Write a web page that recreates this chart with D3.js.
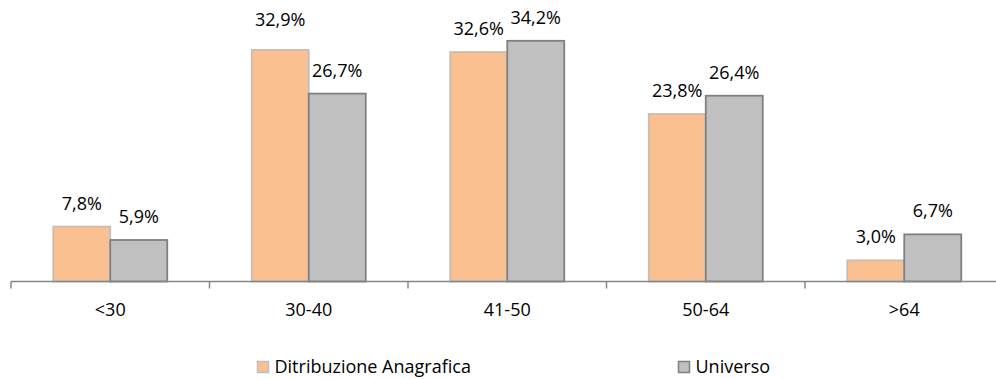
<!DOCTYPE html>
<html>
<head>
<meta charset="utf-8">
<script src="https://cdn.jsdelivr.net/npm/d3@7"></script>
<style>
  html, body { margin: 0; padding: 0; background: #fff; }
  svg { display: block; font-family: "Open Sans", Lato, sans-serif; }
</style>
</head>
<body>
<svg id="chart" width="996" height="379"></svg>
<script>
// Age bands and share of each group (%)
const categories = ["<30", "30-40", "41-50", "50-64", ">64"];
const anagrafica = [7.8, 32.9, 32.6, 23.8, 3.0];
const universo = [5.9, 26.7, 34.2, 26.4, 6.7];
const seriesNames = ["Ditribuzione Anagrafica", "Universo"];

const fmt = v => v.toFixed(1).replace(".", ",") + "%";

const svg = d3.select("#chart");
const baseY = 281.5;
const fontSize = 18;
const labelGap = 17;

const x = d3.scaleBand().domain(categories).range([11, 1003.5]).padding(0);
const y = d3.scaleLinear().domain([0, 40]).range([baseY, 0]);
const barW = 57;

const series = [
  { name: seriesNames[0], values: anagrafica, fill: "#FAC090", stroke: "#BFBFBF", offset: -barW,
    lift: { "30-40": 7 } },
  { name: seriesNames[1], values: universo, fill: "#C0C0C0", stroke: "#808080", offset: 0,
    lift: {} }
];

series.forEach(s => {
  const g = svg.append("g");
  g.selectAll("rect").data(categories).join("rect")
    .attr("x", (c) => x(c) + x.bandwidth() / 2 + s.offset)
    .attr("y", (c, i) => y(s.values[i]))
    .attr("width", barW)
    .attr("height", (c, i) => baseY - y(s.values[i]))
    .attr("fill", s.fill)
    .attr("stroke", s.stroke)
    .attr("stroke-width", 1.8);
  g.selectAll("text").data(categories).join("text")
    .attr("x", (c) => x(c) + x.bandwidth() / 2 + s.offset + barW / 2)
    .attr("y", (c, i) => y(s.values[i]) - labelGap - (s.lift[c] || 0))
    .attr("text-anchor", "middle")
    .attr("font-size", fontSize)
    .attr("fill", "#000")
    .text((c, i) => fmt(s.values[i]));
});

// Category axis along the baseline with ticks between groups
const ax = svg.append("g").attr("transform", `translate(0,${baseY})`);
ax.append("line")
  .attr("x1", 11).attr("x2", 1003.5)
  .attr("stroke", "#868686").attr("stroke-width", 1.5);
ax.selectAll("line.tick-mark")
  .data(d3.range(categories.length + 1))
  .join("line")
  .attr("class", "tick-mark")
  .attr("x1", i => 11 + i * x.step()).attr("x2", i => 11 + i * x.step())
  .attr("y1", 0).attr("y2", 7)
  .attr("stroke", "#868686").attr("stroke-width", 1.5);
ax.selectAll("text.cat")
  .data(categories)
  .join("text")
  .attr("class", "cat")
  .attr("x", c => x(c) + x.bandwidth() / 2)
  .attr("y", 34.2)
  .attr("text-anchor", "middle")
  .attr("font-size", fontSize)
  .text(c => c);

// Legend
const legendX = [257, 678];
const lg = svg.append("g");
series.forEach((s, i) => {
  lg.append("rect")
    .attr("x", legendX[i] + 0.5).attr("y", 361.5)
    .attr("width", 11).attr("height", 11)
    .attr("fill", s.fill).attr("stroke", s.stroke).attr("stroke-width", 1.5);
  lg.append("text")
    .attr("x", legendX[i] + 17.5).attr("y", 372.7)
    .attr("font-size", fontSize)
    .text(s.name);
});
</script>
</body>
</html>
